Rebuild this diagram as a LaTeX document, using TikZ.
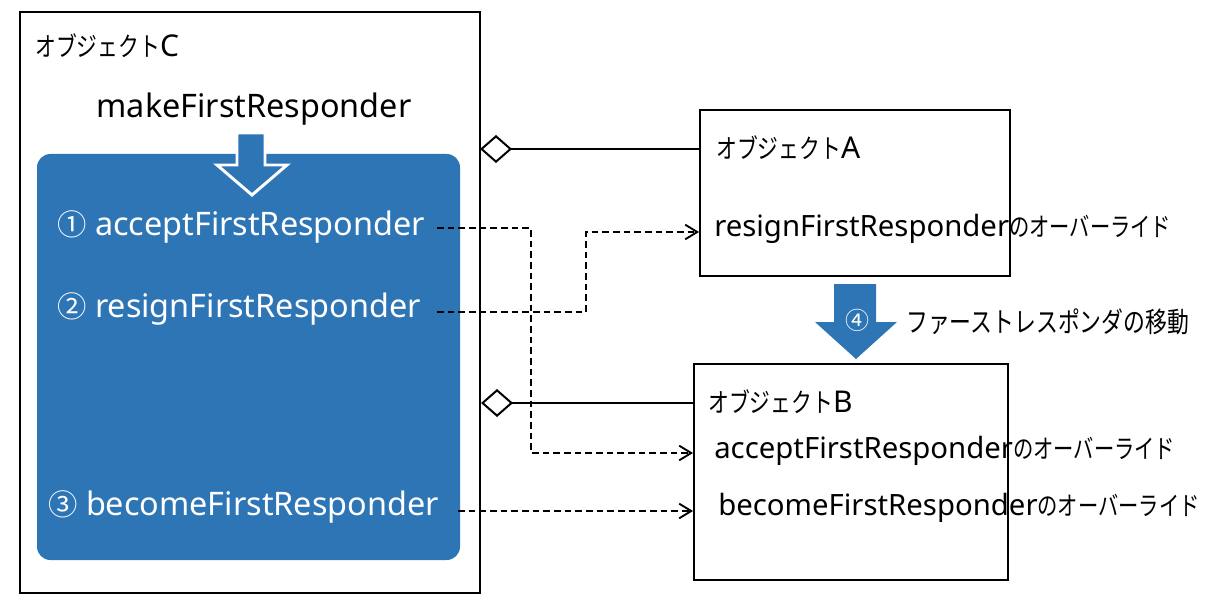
\documentclass[tikz,border=0pt]{standalone}
\usepackage{fontspec}
\setmainfont{Noto Sans}
\newfontfamily\jp{Noto Sans CJK JP}
\newfontfamily\jpn[FakeStretch=0.78]{Noto Sans CJK JP}
\newcommand\jk[2]{{\jp\fontsize{#1}{#1}\selectfont #2}}
\newcommand\jn[2]{{\jpn\fontsize{#1}{#1}\selectfont #2}}
\usetikzlibrary{arrows.meta}
\definecolor{mblue}{HTML}{2E75B6}
\tikzset{
  box/.style={draw=black,line width=1.5pt},
  lbl/.style={anchor=west,inner sep=0pt,font=\fontsize{22}{24}\selectfont},
  wlbl/.style={anchor=west,inner sep=0pt,text=white,font=\fontsize{24.3}{28}\selectfont},
  dline/.style={line width=1.4pt,dash pattern=on 5pt off 3pt,-{Straight Barb[length=9pt,width=11pt,line width=1.4pt]}},
  agg/.style={line width=1.5pt,{Diamond[open,length=24pt,width=21pt,line width=1.5pt]}-},
}
\begin{document}
\begin{tikzpicture}[x=0.75pt,y=-0.75pt]
\useasboundingbox (0,0) rectangle (1221,613);
% boxes
\draw[box] (20,12) rectangle (480,593);
\fill[mblue,rounded corners=10pt] (37,154) rectangle (460,560);
\node[box,minimum width=232.5pt,minimum height=124.5pt,inner sep=0pt] (A) at (855,193) {};
\node[box,minimum width=235.5pt,minimum height=162pt,inner sep=0pt] (B) at (851,472) {};
% texts in C
\node[lbl] (tc) at (35,46) {\jn{20}{オブジェクト}\fontsize{22.5}{24}\selectfont C};
\node[anchor=center,inner sep=0pt,font=\fontsize{24.3}{28}\selectfont] (mk) at (254,109) {makeFirstResponder};
% hollow arrow
\draw[white,line width=2.2pt,fill=mblue,line join=miter] (237,133) -- (265,133) -- (265,165) -- (287,165) -- (252,195) -- (217,165) -- (237,165) -- cycle;
\node[wlbl] (acc) at (57,227) {\jk{22}{①} acceptFirstResponder};
\node[wlbl] (res) at (57,309) {\jk{22}{②} resignFirstResponder};
\node[wlbl] (bec) at (48,507) {\jk{22}{③} becomeFirstResponder};
% texts in A and B
\node[lbl] (ta) at (716,148) {\jn{20}{オブジェクト}\fontsize{22.5}{24}\selectfont A};
\node[lbl] (ares) at (714,229) {resignFirstResponder\jn{19.5}{のオーバーライド}};
\node[lbl] (tb) at (708,402) {\jn{20}{オブジェクト}\fontsize{22.5}{24}\selectfont B};
\node[lbl] (bacc) at (714,451) {acceptFirstResponder\jn{19.5}{のオーバーライド}};
\node[lbl] (bbec) at (718,508) {becomeFirstResponder\jn{19.5}{のオーバーライド}};
% aggregation lines
\draw[agg] (480,149) -- (A.west |- 0,149);
\draw[agg] (481,403) -- (B.west |- 0,403);
% dashed connectors
\coordinate (s1) at (437,228);
\coordinate (s2) at (437,312);
\coordinate (s3) at (458,511);
\draw[dline] (s1) -- (531,228) |- (B.west |- 0,453);
\draw[dline] (s2) -- (586,312) |- (A.west |- 0,232);
\draw[dline] (s3) -- (B.west |- 0,511);
% move arrow
\fill[mblue] (834,284) -- (876,284) -- (876,322) -- (897,322) -- (856,359) -- (815,322) -- (834,322) -- cycle;
\node[inner sep=0pt,text=white] (n4) at (857,320) {\jk{18}{④}};
\node[lbl] (mv) at (906,322) {\jn{21}{ファーストレスポンダの移動}};
\end{tikzpicture}
\end{document}
